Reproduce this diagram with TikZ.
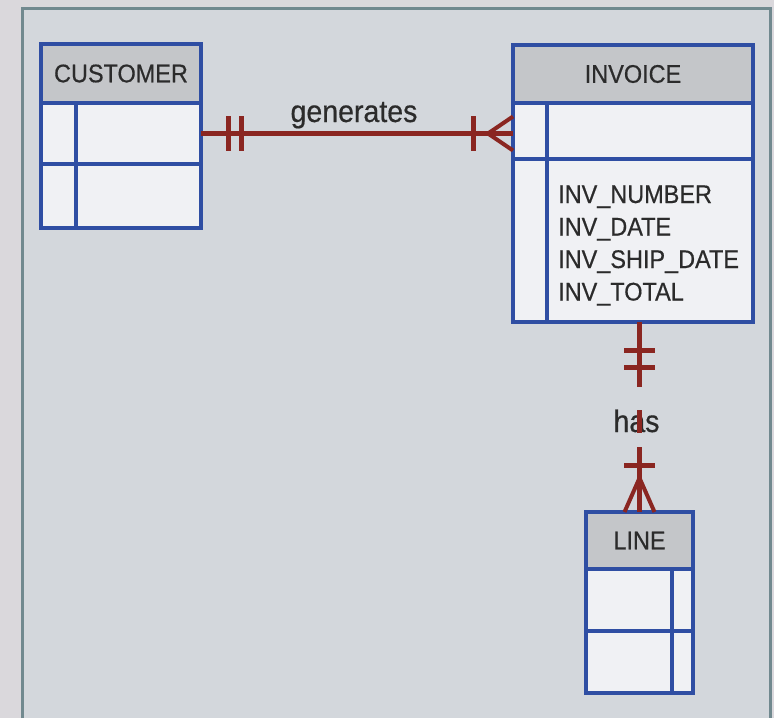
\documentclass[tikz,border=0pt]{standalone}
\usepackage{fontspec}
\setmainfont{Liberation Sans}[FakeStretch=0.92,FakeBold=0.5]
\usetikzlibrary{calc}

\definecolor{outerbg}{HTML}{DAD8DC}
\definecolor{framegray}{HTML}{71898F}
\definecolor{canvasbg}{HTML}{D3D7DC}
\definecolor{boxblue}{HTML}{2F4EA3}
\definecolor{hdrgray}{HTML}{C4C6C9}
\definecolor{rowfill}{HTML}{F0F1F4}
\definecolor{relred}{HTML}{8A2621}
\definecolor{txt}{HTML}{2B2B2B}

\newcommand\entfont{\fontsize{25.5}{30}\selectfont}
\newcommand\relfont{\fontsize{31}{36}\selectfont}

\begin{document}
\begin{tikzpicture}[x=1pt,y=-1pt,
  hdrcell/.style={draw=boxblue, fill=hdrgray, line width=3.5pt, inner sep=0pt,
    outer sep=0pt, anchor=north west, font=\entfont, text=txt},
  rowcell/.style={draw=boxblue, fill=rowfill, line width=3.5pt, inner sep=0pt,
    outer sep=0pt, anchor=north west},
  boxline/.style={draw=boxblue, line width=3.5pt},
  outline/.style={draw=boxblue, line width=3.5pt, rounded corners=2pt},
  attr/.style={anchor=base west, font=\entfont, text=txt, inner sep=0pt},
  rel/.style={draw=relred, line width=5pt},
  relbar/.style={draw=relred, line width=5pt},
  crowfoot/.style={draw=relred, line width=4pt},
  rellabel/.style={font=\relfont, text=txt, inner sep=0pt}]

  % page and drawing frame
  \useasboundingbox (0,0) rectangle (774,718);
  \fill[outerbg] (0,0) rectangle (774,718);
  \fill[canvasbg] (22,8) rectangle (770,718);
  \draw[framegray, line width=3pt] (22,718) -- (22,8) -- (770,8) -- (770,718);

  % CUSTOMER entity
  \node[hdrcell, minimum width=160, minimum height=59] (cust) at (41,44) {CUSTOMER};
  \node[rowcell, minimum width=160, minimum height=61] (cust1) at (cust.south west) {};
  \node[rowcell, minimum width=160, minimum height=64] (cust2) at (cust1.south west) {};
  \draw[boxline] ($(cust1.north west)+(35,0)$) -- ($(cust2.south west)+(35,0)$);
  \draw[outline] (cust.north west) rectangle (cust2.south east);

  % INVOICE entity
  \node[hdrcell, minimum width=240, minimum height=58] (inv) at (513,45) {INVOICE};
  \node[rowcell, minimum width=240, minimum height=56] (inv1) at (inv.south west) {};
  \node[rowcell, minimum width=240, minimum height=163] (inv2) at (inv1.south west) {};
  \draw[boxline] ($(inv1.north west)+(34,0)$) -- ($(inv2.south west)+(34,0)$);
  \draw[outline] (inv.north west) rectangle (inv2.south east);
  \node[attr] (a1) at (558,203) {INV\_NUMBER};
  \node[attr] (a2) at (558,235.5) {INV\_DATE};
  \node[attr] (a3) at (558,268) {INV\_SHIP\_DATE};
  \node[attr] (a4) at (558,300.5) {INV\_TOTAL};

  % LINE entity
  \node[hdrcell, minimum width=107, minimum height=57] (line) at (586,512) {LINE};
  \node[rowcell, minimum width=107, minimum height=62] (line1) at (line.south west) {};
  \node[rowcell, minimum width=107, minimum height=62] (line2) at (line1.south west) {};
  \draw[boxline] ($(line1.north east)+(-21,0)$) -- ($(line2.south east)+(-21,0)$);
  \draw[outline] (line.north west) rectangle (line2.south east);

  % generates: CUSTOMER (one and only one) to INVOICE (one or many)
  \coordinate (g1) at (cust1.east);
  \coordinate (g2) at (cust1.east -| inv1.west);
  \draw[rel] (g1) -- (g2);
  \draw[relbar] ($(g1)+(27,-17.5)$) -- ++(0,35);
  \draw[relbar] ($(g1)+(40,-17.5)$) -- ++(0,35);
  \draw[relbar] ($(g2)+(-40,-17.5)$) -- ++(0,35);
  \draw[crowfoot] ($(g2)+(0,-17)$) -- ($(g2)+(-25,0)$) -- ($(g2)+(0,17)$);
  \node[rellabel, anchor=base] (gen) at (354,122) {generates};

  % has: INVOICE (one and only one) to LINE (one or many)
  \coordinate (h1) at (line.north |- inv2.south);
  \coordinate (h2) at (line.north);
  \node[rellabel, anchor=base] (has) at (636.5,432) {has};
  \draw[rel, dash pattern=on 65pt off 23pt on 23pt off 14pt on 70pt off 0pt] (h1) -- (h2);
  \draw[relbar] ($(h1)+(-15.5,28)$) -- ++(31,0);
  \draw[relbar] ($(h1)+(-15.5,45)$) -- ++(31,0);
  \draw[relbar] ($(h2)+(-15.5,-47)$) -- ++(31,0);
  \draw[crowfoot] ($(h2)+(-15,0)$) -- ($(h2)+(0,-34)$) -- ($(h2)+(15,0)$);
\end{tikzpicture}
\end{document}
